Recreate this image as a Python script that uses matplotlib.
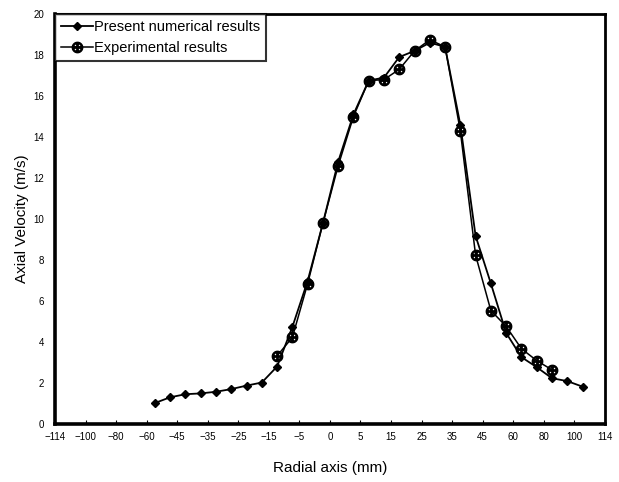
import numpy as np
import matplotlib
matplotlib.use("Agg")
import matplotlib.pyplot as plt

# tick labels on the radial axis (evenly spaced on the page, not linear in mm)
tick_mm = [-114, -100, -80, -60, -45, -35, -25, -15, -5, 0, 5, 15, 25, 35, 45, 60, 80, 100, 114]
tick_pos = np.arange(len(tick_mm))

# present numerical results
num_x = [-56, -48.5, -42.3, -37.3, -32.3, -27.3, -22.3, -17.3, -12.3, -7.3, -3.65, -1.15,
         1.35, 3.85, 7.7, 12.7, 17.7, 22.7, 27.7, 32.7, 37.7, 42.7, 49.05, 56.55, 65.4,
         75.4, 85.4, 95.4, 103.8]
num_y = [1.03, 1.31, 1.46, 1.50, 1.58, 1.71, 1.88, 2.03, 2.81, 4.74, 6.98, 9.8,
         12.8, 15.1, 16.75, 16.9, 17.9, 18.2, 18.6, 18.4, 14.6, 9.18, 6.86, 4.45, 3.27,
         2.78, 2.24, 2.1, 1.83]

# experimental results
exp_x = [-12.3, -7.3, -3.65, -1.15, 1.35, 3.85, 7.7, 12.7, 17.7, 22.7, 27.7, 32.7,
         37.7, 42.7, 49.05, 56.55, 65.4, 75.4, 85.4]
exp_y = [3.33, 4.23, 6.85, 9.8, 12.6, 15.0, 16.75, 16.8, 17.3, 18.2, 18.74, 18.4,
         14.3, 8.24, 5.54, 4.77, 3.68, 3.1, 2.65]


def fwd(x):
    return np.interp(x, tick_mm, tick_pos)


def inv(p):
    return np.interp(p, tick_pos, tick_mm)


plt.rcParams['font.family'] = ['Liberation Sans', 'DejaVu Sans']

fig = plt.figure(figsize=(6.19, 4.82), dpi=100)
ax = fig.add_axes([0.089, 0.120, 0.888, 0.851])
ax.set_xscale('function', functions=(fwd, inv))

ax.plot(num_x, num_y, color='black', lw=1.3, marker='D', ms=4.5,
        label='Present numerical results')
ax.plot(exp_x, exp_y, color='black', lw=1.1, marker=r'$\oplus$', ms=7.5,
        label='Experimental results')

ax.set_xlim(-114, 114)
ax.set_ylim(0, 20)
ax.set_xticks(tick_mm)
ax.set_xticklabels([str(t).replace('-', '\u2212') for t in tick_mm])
ax.set_yticks(range(0, 21, 2))
ax.tick_params(axis='both', labelsize=7, direction='in', length=3, width=0.8)
ax.tick_params(axis='x', pad=6)
ax.tick_params(axis='y', length=0, pad=8)

for side in ['left', 'bottom']:
    ax.spines[side].set_linewidth(2.6)
for side in ['top', 'right']:
    ax.spines[side].set_linewidth(2)

ax.set_xlabel('Radial axis (mm)', fontsize=11, labelpad=13)
ax.set_ylabel('Axial Velocity (m/s)', fontsize=11, labelpad=3)

leg = ax.legend(loc='upper left', fontsize=10.5, frameon=True, fancybox=False,
                borderaxespad=0, handlelength=2.2, handletextpad=0.1,
                borderpad=0.4, labelspacing=0.5)
leg.get_frame().set_edgecolor('black')
leg.get_frame().set_linewidth(1.5)

fig.savefig('out.png', dpi=100)
